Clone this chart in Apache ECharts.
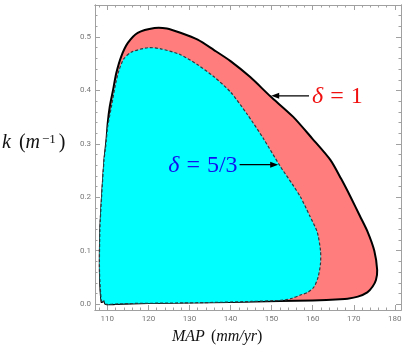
<!DOCTYPE html>
<html>
<head>
<meta charset="utf-8">
<script src="https://cdn.jsdelivr.net/npm/echarts@6/dist/echarts.min.js"></script>
<style>
html,body{margin:0;padding:0;background:#fff}
#main{width:407px;height:350px}
</style>
</head>
<body>
<div id="main"></div>
<script>
// region for delta = 1 (outer, red)
var outerMap = [108.6, 108.2, 108.3, 108.7, 109.3, 109.8, 110.1, 110.6, 111.4, 112.2, 113.4, 115, 117.4, 121.5, 124.5, 127.8, 132, 135.9, 140, 144.8, 149.7, 155.2, 159.9, 164.3, 166.9, 169.2, 171.5, 173.4, 175, 175.7, 175.4, 174.6, 173.3, 171, 168.5, 166.7, 160, 152, 140, 130, 120, 112, 109.6, 109.2]
var outerK   = [0.004, 0.06, 0.14, 0.2, 0.27, 0.308, 0.339, 0.37, 0.401, 0.433, 0.464, 0.489, 0.508, 0.517, 0.516, 0.508, 0.495, 0.476, 0.455, 0.425, 0.389, 0.351, 0.31, 0.27, 0.235, 0.201, 0.165, 0.135, 0.1, 0.064, 0.045, 0.033, 0.022, 0.014, 0.01, 0.009, 0.007, 0.006, 0.004, 0.003, 0.002, 0.0, 0.0, 0.006]
// region for delta = 5/3 (inner, cyan)
var innerMap = [108.6, 108.1, 108.2, 108.6, 109.2, 109.6, 110.1, 111, 111.9, 112.8, 114, 115.9, 119.9, 123, 127.8, 132, 135.9, 140, 144.1, 148, 152.1, 155, 157, 159.3, 161.1, 161.9, 161.9, 161.3, 160.3, 158.8, 157, 155, 153, 145, 135, 125, 115, 111.5, 109.6, 109.2]
var innerK   = [0.004, 0.06, 0.14, 0.2, 0.27, 0.295, 0.333, 0.37, 0.408, 0.437, 0.459, 0.472, 0.48, 0.478, 0.467, 0.448, 0.426, 0.397, 0.355, 0.31, 0.258, 0.225, 0.201, 0.165, 0.135, 0.1, 0.076, 0.05, 0.032, 0.022, 0.017, 0.011, 0.0075, 0.005, 0.003, 0.002, 0.001, 0.0, 0.0, 0.006]

var xTicks = [110, 120, 130, 140, 150, 160, 170, 180]
var xMinor = [108, 112, 114, 116, 118, 122, 124, 126, 128, 132, 134, 136, 138, 142, 144, 146, 148, 152, 154, 156, 158, 162, 164, 166, 168, 172, 174, 176, 178, 180]
var yTicks = [0, 0.1, 0.2, 0.3, 0.4, 0.5]
var yMinor = [0.02, 0.04, 0.06, 0.08, 0.12, 0.14, 0.16, 0.18, 0.22, 0.24, 0.26, 0.28, 0.32, 0.34, 0.36, 0.38, 0.42, 0.44, 0.46, 0.48, 0.52, 0.54]

// annotations: arrow tip, arrow tail (data units)
var noteText = ['δ = 1', 'δ = 5/3']
var noteTip  = [[149.9, 0.39], [151.6, 0.261]]
var noteTail = [[159.1, 0.39], [142.2, 0.261]]

var xMin = 107, xMax = 181.5
var yMin = -0.011, yMax = 0.56

var chart = echarts.init(document.getElementById('main'), null, {renderer: 'canvas'})

var frameColor = '#a0a0a0'
var serif = '"Liberation Serif", "DejaVu Serif", serif'

function xAxisOf(pos, vals, len, withLabel) {
  return {
    type: 'value', position: pos, min: xMin, max: xMax,
    axisLine: {show: true, onZero: false, lineStyle: {color: frameColor, width: 1}},
    axisTick: {show: true, inside: true, length: len, customValues: vals, lineStyle: {color: frameColor}},
    axisLabel: {show: withLabel, customValues: vals, margin: 5, color: '#777', fontSize: 8, fontFamily: 'Roboto'},
    splitLine: {show: false}
  }
}
function yAxisOf(pos, vals, len, withLabel) {
  return {
    type: 'value', position: pos, min: yMin, max: yMax,
    axisLine: {show: true, onZero: false, lineStyle: {color: frameColor, width: 1}},
    axisTick: {show: true, inside: true, length: len, customValues: vals, lineStyle: {color: frameColor}},
    axisLabel: {show: withLabel, customValues: vals, margin: 4, color: '#777', fontSize: 8, fontFamily: 'Roboto',
      formatter: function (v) { return v.toFixed(1) }},
    splitLine: {show: false}
  }
}

//画闭合区域
function regionRender(xs, ys, fill, stroke, width, dash) {
  return function (params, api) {
    var pts = xs.map(function (x, i) { return api.coord([x, ys[i]]) })
    return {
      type: 'polygon',
      shape: {points: pts, smooth: 0.25},
      style: {fill: fill, stroke: stroke, lineWidth: width, lineDash: dash}
    }
  }
}

function noteRender(params, api) {
  var i = params.dataIndex
  var tip = api.coord(noteTip[i])
  var tail = api.coord(noteTail[i])
  var dir = tip[0] < tail[0] ? -1 : 1
  var color = i === 0 ? '#f01010' : '#1010f0'
  var txt = noteText[i].split(' = ')
  return {
    type: 'group',
    children: [
      {type: 'line', shape: {x1: tail[0], y1: tail[1], x2: tip[0] - dir * 4, y2: tip[1]},
        style: {stroke: '#000', lineWidth: 1.3}},
      {type: 'polygon', shape: {points: [[tip[0], tip[1]], [tip[0] - dir * 8, tip[1] - 3], [tip[0] - dir * 8, tip[1] + 3]]},
        style: {fill: '#000'}},
      {type: 'text',
        style: {
          x: tail[0] + (dir < 0 ? 3 : -2), y: tip[1] + 1,
          align: dir < 0 ? 'left' : 'right', verticalAlign: 'middle',
          text: '{i|' + txt[0] + '}{e|=}{n|' + txt[1] + '}',
          rich: {
            i: {fontFamily: serif, fontStyle: 'italic', fontSize: 24, fill: color},
            e: {fontFamily: serif, fontSize: 24, fill: color, padding: [0, 7, 0, 7]},
            n: {fontFamily: serif, fontSize: 24, fill: color}
          }
        }}
    ]
  }
}

var option = {
  backgroundColor: '#fff',
  animation: false,
  grid: {left: 95, right: 6, top: 5, bottom: 40, outerBoundsMode: 'none'},
  xAxis: [
    xAxisOf('bottom', xTicks, 5, true),
    xAxisOf('bottom', xMinor, 2.5, false),
    xAxisOf('top', xTicks, 5, false),
    xAxisOf('top', xMinor, 2.5, false)
  ],
  yAxis: [
    yAxisOf('left', yTicks, 5, true),
    yAxisOf('left', yMinor, 2.5, false),
    yAxisOf('right', yTicks, 5, false),
    yAxisOf('right', yMinor, 2.5, false)
  ],
  series: [
    {type: 'custom', name: 'delta1', renderItem: regionRender(outerMap, outerK, '#ff7d7d', '#000', 2, null),
      data: [[outerMap[0], outerK[0]]], encode: {x: 0, y: 1}, clip: true, z: 1},
    {type: 'custom', name: 'delta53', renderItem: regionRender(innerMap, innerK, '#00ffff', '#2a3a40', 1.2, [3, 2]),
      data: [[innerMap[0], innerK[0]]], encode: {x: 0, y: 1}, clip: true, z: 2},
    {type: 'custom', name: 'notes', renderItem: noteRender,
      data: noteTip, encode: {x: 0, y: 1}, z: 3}
  ],
  graphic: [
    {type: 'text', left: 2, top: 133,
      style: {
        text: '{i|k}{g| }{n|(}{i|m}{s|−1}{n|)}',
        rich: {
          i: {fontFamily: serif, fontStyle: 'italic', fontSize: 20, fill: '#111'},
          g: {fontFamily: serif, fontSize: 20, fill: '#111', padding: [0, 3, 0, 0]},
          n: {fontFamily: serif, fontSize: 20, fill: '#111'},
          s: {fontFamily: serif, fontSize: 13, fill: '#111', verticalAlign: 'top', padding: [0, 3, 0, 2]}
        }
      }},
    {type: 'text', left: 172, top: 329,
      style: {
        text: '{i|MAP}{g| }{n|(}{i|mm/yr}{n|)}',
        rich: {
          i: {fontFamily: serif, fontStyle: 'italic', fontSize: 16, fill: '#111'},
          g: {fontFamily: serif, fontSize: 16, fill: '#111', padding: [0, 2, 0, 0]},
          n: {fontFamily: serif, fontSize: 16, fill: '#111'}
        }
      }}
  ]
}

chart.setOption(option)
</script>
</body>
</html>
